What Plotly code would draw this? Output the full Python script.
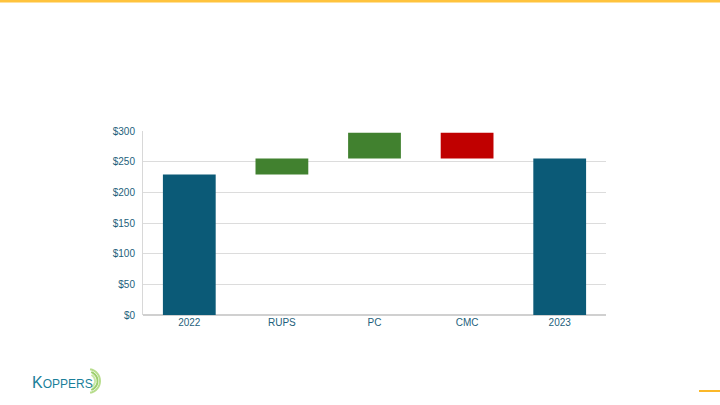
import math
import plotly.graph_objects as go

categories = ["2022", "RUPS", "PC", "CMC", "2023"]
values = [229, 26, 42, -42, 255]
measures = ["absolute", "relative", "relative", "relative", "total"]
y_ticks = [0, 50, 100, 150, 200, 250, 300]

teal = "#0b5a77"
green = "#41812f"
red = "#c00000"
label_color = "#1d5f7c"

# plot area in pixels
L, R, T, B = 143, 606, 131, 315
PW, PH = R - L, B - T


def px(x):
    return (x - L) / PW


def py(y):
    return (B - y) / PH


def arc_path(cx, cy, r, a0, a1, n=16):
    pts = []
    for i in range(n + 1):
        a = math.radians(a0 + (a1 - a0) * i / n)
        pts.append((px(cx + r * math.cos(a)), py(cy - r * math.sin(a))))
    return "M " + " L ".join(f"{x:.4f},{y:.4f}" for x, y in pts)


fig = go.Figure()
fig.add_trace(go.Waterfall(
    x=categories,
    y=values,
    measure=measures,
    connector=dict(visible=False),
    increasing=dict(marker=dict(color=green)),
    decreasing=dict(marker=dict(color=red)),
    totals=dict(marker=dict(color=teal)),
    textposition="none",
    hoverinfo="x+y",
))

shapes = [
    dict(type="line", xref="paper", yref="paper", x0=px(0), x1=px(720),
         y0=py(1), y1=py(1), line=dict(color="#ffc33d", width=3)),
    dict(type="line", xref="paper", yref="paper", x0=px(699), x1=px(720),
         y0=py(391), y1=py(391), line=dict(color="#fbb829", width=2)),
]
for r, col, a0, a1 in [(12, "#b7dd8c", -80, 80), (9.5, "#9ccf6a", -70, 70), (7, "#c9e6a7", -60, 60)]:
    shapes.append(dict(type="path", xref="paper", yref="paper",
                       path=arc_path(88, 381, r, a0, a1),
                       line=dict(color=col, width=2), layer="below"))

fig.update_layout(
    width=720, height=405,
    margin=dict(l=L, r=720 - R, t=T, b=405 - B),
    paper_bgcolor="white",
    plot_bgcolor="white",
    showlegend=False,
    waterfallgap=0.43,
    font=dict(family="Liberation Sans, Arial, sans-serif", size=10, color=label_color),
    xaxis=dict(
        showgrid=False,
        showline=False,
        ticks="",
        tickfont=dict(size=10, color=label_color),
    ),
    yaxis=dict(
        range=[0, 300],
        tickvals=y_ticks,
        ticktext=["$" + str(v) for v in y_ticks],
        showgrid=True,
        gridcolor="#dcdcdc",
        gridwidth=1,
        zeroline=True,
        zerolinecolor="#d0d0d0",
        showline=True,
        linecolor="#d8d8d8",
        ticks="",
        ticklabelstandoff=5,
        tickfont=dict(size=10, color=label_color),
    ),
    shapes=shapes,
    annotations=[
        dict(xref="paper", yref="paper",
             x=px(30), y=py(382),
             xanchor="left", yanchor="middle", showarrow=False,
             text="K<span style='font-size:12px'>OPPERS</span>",
             font=dict(family="Liberation Sans, Arial, sans-serif", size=16, color="#1a7f9a")),
    ],
)

fig.write_html("out.html", config={"displayModeBar": False},
               post_script="document.body.style.margin='0';")
